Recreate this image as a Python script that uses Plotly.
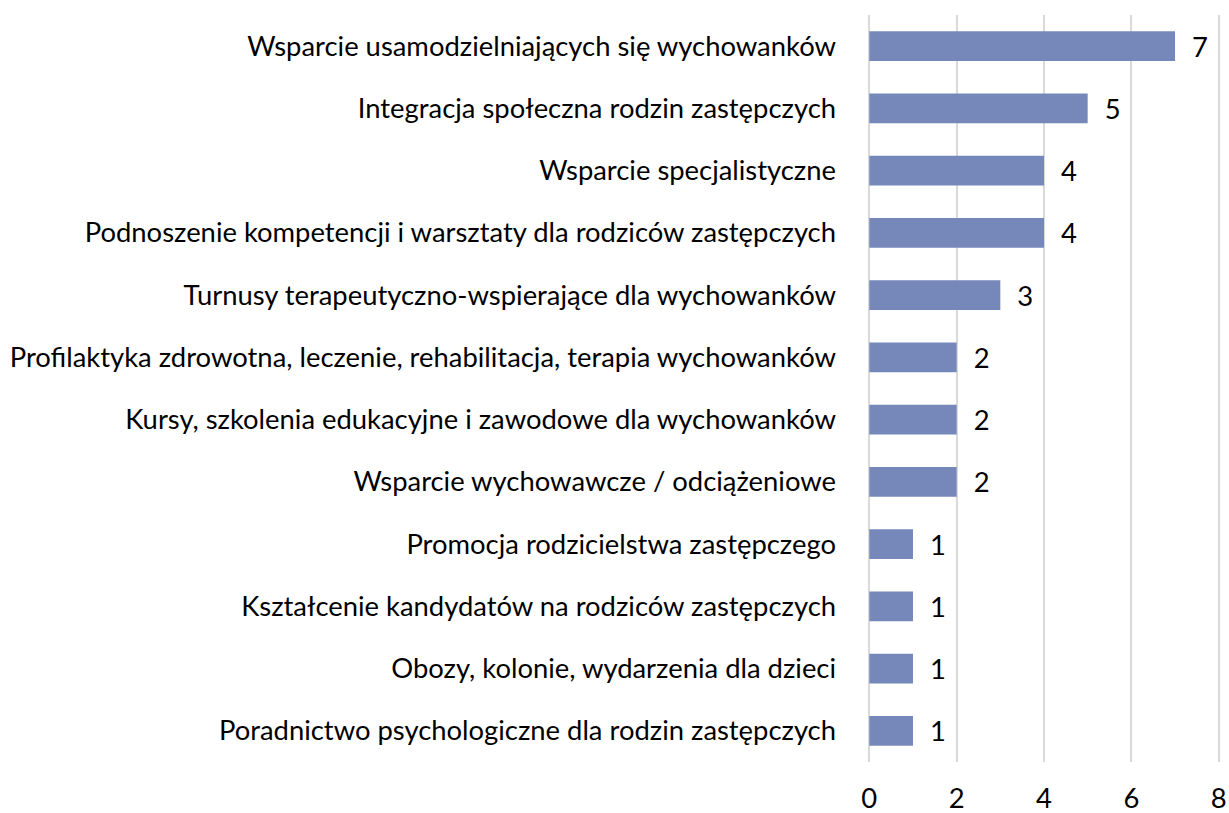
import plotly.graph_objects as go

categories = [
    "Wsparcie usamodzielniających się wychowanków",
    "Integracja społeczna rodzin zastępczych",
    "Wsparcie specjalistyczne",
    "Podnoszenie kompetencji i warsztaty dla rodziców zastępczych",
    "Turnusy terapeutyczno-wspierające dla wychowanków",
    "Profilaktyka zdrowotna, leczenie, rehabilitacja, terapia wychowanków",
    "Kursy, szkolenia edukacyjne i zawodowe dla wychowanków",
    "Wsparcie wychowawcze / odciążeniowe",
    "Promocja rodzicielstwa zastępczego",
    "Kształcenie kandydatów na rodziców zastępczych",
    "Obozy, kolonie, wydarzenia dla dzieci",
    "Poradnictwo psychologiczne dla rodzin zastępczych",
]
values = [7, 5, 4, 4, 3, 2, 2, 2, 1, 1, 1, 1]
x_ticks = [0, 2, 4, 6, 8]

FONT = "Lato, Calibri, Carlito, sans-serif"
FSIZE = 27.4

fig = go.Figure(
    go.Bar(
        x=values,
        y=categories,
        orientation="h",
        marker=dict(color="#7688BA", line=dict(width=0)),
        text=["  " + str(v) for v in values],
        textposition="outside",
        constraintext="none",
        textfont=dict(family=FONT, size=FSIZE, color="#000000"),
        cliponaxis=False,
    )
)

fig.update_layout(
    width=1229,
    height=813,
    margin=dict(l=868, r=9, t=15, b=51, autoexpand=False),
    paper_bgcolor="white",
    plot_bgcolor="white",
    bargap=0.52,
    showlegend=False,
    font=dict(family=FONT, size=FSIZE, color="#000000"),
)
fig.update_xaxes(
    range=[-0.03, 8.03],
    tickvals=x_ticks,
    showgrid=True,
    gridcolor="#D9D9D9",
    gridwidth=1.5,
    zeroline=False,
    showline=False,
    ticks="",
    automargin=False,
    ticklabelstandoff=18,
    tickfont=dict(family=FONT, size=FSIZE, color="#000000"),
)
fig.update_yaxes(
    autorange="reversed",
    showgrid=False,
    zeroline=False,
    showline=False,
    ticks="",
    automargin=False,
    ticklabelstandoff=31,
    tickfont=dict(family=FONT, size=FSIZE, color="#000000"),
)

fig.write_html("out.html")
